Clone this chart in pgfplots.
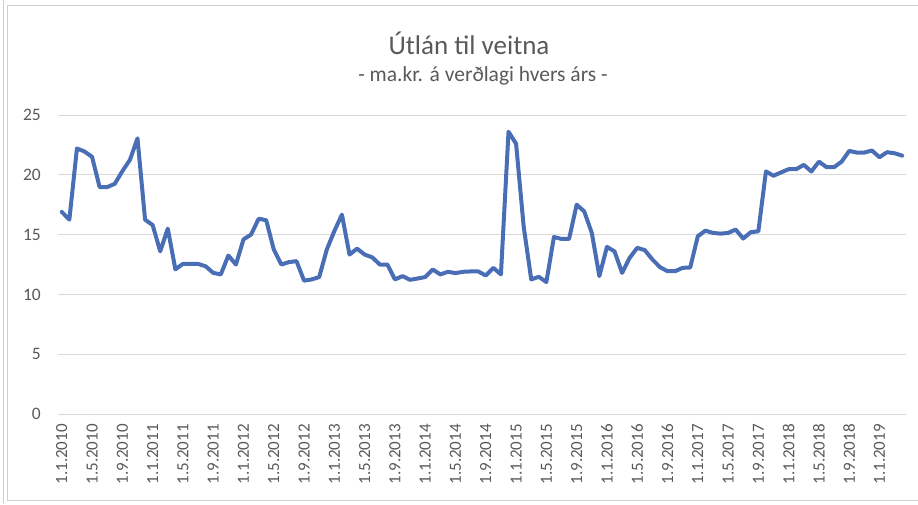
\documentclass[border=0pt]{standalone}
\usepackage{pgfplots}
\pgfplotsset{compat=1.18}
\usepackage{fontspec}
\setmainfont{Carlito}
\definecolor{lineblue}{HTML}{4A6EB5}
\definecolor{gridgray}{HTML}{D9D9D9}
\definecolor{framegray}{HTML}{D0D0D0}
\definecolor{txtgray}{HTML}{595959}
\begin{document}
\begin{tikzpicture}
\path[use as bounding box] (0,0) rectangle (918pt,504pt);
\draw[framegray, line width=0.8pt] (3pt,0pt) -- (3pt,504pt);
\draw[framegray, line width=0.8pt] (918pt,499pt) -- (7pt,499pt) -- (7pt,4pt) -- (918pt,4pt);
\node[anchor=base, text=txtgray, font=\fontsize{27}{32}\selectfont, inner sep=0pt] at (469pt,449pt) {Útlán til veitna};
\node[anchor=base, text=txtgray, font=\fontsize{21.5}{25}\selectfont, inner sep=0pt] at (483pt,422pt) {- ma.kr. á verðlagi hvers árs -};
\begin{axis}[
  at={(58pt,90pt)}, anchor=south west,
  scale only axis, width=848pt, height=299pt,
  xmin=-0.5, xmax=111.5, ymin=0, ymax=25,
  axis line style={draw=none},
  ytick={0,5,...,25},
  ymajorgrids, grid style={gridgray, line width=0.9pt},
  major tick length=0pt,
  xtick={0,4,...,108},
  xticklabels={1.1.2010,1.5.2010,1.9.2010,1.1.2011,1.5.2011,1.9.2011,1.1.2012,1.5.2012,1.9.2012,1.1.2013,1.5.2013,1.9.2013,1.1.2014,1.5.2014,1.9.2014,1.1.2015,1.5.2015,1.9.2015,1.1.2016,1.5.2016,1.9.2016,1.1.2017,1.5.2017,1.9.2017,1.1.2018,1.5.2018,1.9.2018,1.1.2019},
  xticklabel style={rotate=90, anchor=east, inner sep=0pt, text=txtgray, font=\fontsize{17}{20}\selectfont},
  xticklabel shift=10pt,
  yticklabel style={anchor=east, inner sep=0pt, text=txtgray, font=\fontsize{17.5}{20}\selectfont},
  yticklabel shift=17pt,
  /pgf/number format/assume math mode=true,
  clip=false,
]
\addplot[lineblue, line width=4pt, line join=round, line cap=round] table[x=i, y=v] {
i v
0 16.9
1 16.25
2 22.2
3 21.95
4 21.5
5 18.97
6 18.97
7 19.25
8 20.3
9 21.25
10 23.05
11 16.25
12 15.8
13 13.6
14 15.5
15 12.1
16 12.55
17 12.55
18 12.55
19 12.35
20 11.8
21 11.67
22 13.25
23 12.5
24 14.6
25 15.0
26 16.33
27 16.2
28 13.75
29 12.5
30 12.7
31 12.78
32 11.15
33 11.25
34 11.45
35 13.75
36 15.3
37 16.67
38 13.33
39 13.83
40 13.33
41 13.1
42 12.5
43 12.5
44 11.25
45 11.53
46 11.22
47 11.33
48 11.45
49 12.08
50 11.67
51 11.89
52 11.78
53 11.89
54 11.92
55 11.92
56 11.58
57 12.22
58 11.67
59 23.6
60 22.6
61 15.7
62 11.25
63 11.47
64 11.03
65 14.8
66 14.64
67 14.64
68 17.5
69 16.94
70 15.14
71 11.53
72 13.97
73 13.6
74 11.8
75 13.05
76 13.89
77 13.7
78 12.92
79 12.28
80 11.94
81 11.94
82 12.22
83 12.25
84 14.86
85 15.33
86 15.14
87 15.08
88 15.14
89 15.42
90 14.67
91 15.2
92 15.28
93 20.28
94 19.92
95 20.2
96 20.47
97 20.47
98 20.83
99 20.28
100 21.1
101 20.64
102 20.64
103 21.1
104 22.0
105 21.86
106 21.86
107 22.03
108 21.47
109 21.89
110 21.8
111 21.6
};
\end{axis}
\end{tikzpicture}
\end{document}
